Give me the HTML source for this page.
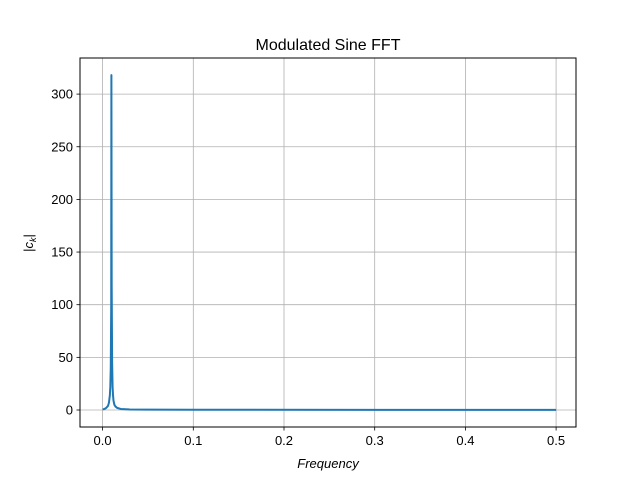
<!DOCTYPE html>
<html><head><meta charset="utf-8"><style>
body{margin:0;background:#fff}
svg{display:block;font-family:"Liberation Sans","DejaVu Sans",sans-serif}
</style></head><body>
<svg id="chart" width="640" height="480" viewBox="0 0 640 480">
<rect x="0" y="0" width="640" height="480" fill="#fff"/>
<g id="grid"></g>
<g id="ticks"></g>
<path id="line" fill="none" stroke="#1f77b4" stroke-width="2" stroke-linejoin="round"/>
<rect x="80" y="58" width="496" height="369" fill="none" stroke="#000" stroke-width="1"/>
<text x="328" y="50" text-anchor="middle" font-size="16">Modulated Sine FFT</text>
<text x="328" y="468" text-anchor="middle" font-size="13" font-style="italic">Frequency</text>
<text transform="translate(33,243) rotate(-90)" text-anchor="middle" font-size="13">|<tspan font-style="italic">c</tspan><tspan font-style="italic" font-size="9" dy="3">k</tspan><tspan dy="-3">|</tspan></text>
</svg>
<script>
const xTicks=[0,0.1,0.2,0.3,0.4,0.5];
const xTickLabels=["0.0","0.1","0.2","0.3","0.4","0.5"];
const yTicks=[0,50,100,150,200,250,300];
const yTickLabels=["0","50","100","150","200","250","300"];
const freqs=[0,0.002,0.004,0.006,0.007,0.008,0.0085,0.009,0.0095,0.0097,0.01,0.0105,0.011,0.0115,0.012,0.013,0.014,0.016,0.02,0.03,0.05,0.1,0.5];
const mags=[0.5,1,2,4,7,14,22,40,100,318,120,45,22,14,9,5,3.5,2,1,0.5,0.3,0.2,0.1];
const X=v=>102.6+v*907;
const Y=v=>410-v*1.053;
const NS="http://www.w3.org/2000/svg";
const grid=document.getElementById('grid'),ticks=document.getElementById('ticks');
function mk(tag,attrs,parent){const e=document.createElementNS(NS,tag);for(const k in attrs)e.setAttribute(k,attrs[k]);parent.appendChild(e);return e;}
xTicks.forEach((t,i)=>{
  const x=X(t);
  const g=mk('line',{x1:x,x2:x,y1:58,y2:427,stroke:'#b0b0b0','stroke-width':0.8},grid);
  
  
  const tk=mk('line',{x1:x,x2:x,y1:427,y2:430.5,stroke:'#000','stroke-width':0.8},ticks);
  
  
  const lb=mk('text',{x:x,y:445,'text-anchor':'middle','font-size':13},ticks);
  lb.textContent=xTickLabels[i];
  
  
});
yTicks.forEach((t,i)=>{
  const y=Y(t);
  const g=mk('line',{x1:80,x2:576,y1:y,y2:y,stroke:'#b0b0b0','stroke-width':0.8},grid);
  
  
  const tk=mk('line',{x1:76.5,x2:80,y1:y,y2:y,stroke:'#000','stroke-width':0.8},ticks);
  
  
  const lb=mk('text',{x:73,y:y+4.5,'text-anchor':'end','font-size':13},ticks);
  lb.textContent=yTickLabels[i];
  
  
});
document.getElementById('line').setAttribute('d',freqs.map((f,i)=>(i?'L':'M')+X(f).toFixed(2)+','+Y(mags[i]).toFixed(2)).join(' '));
</script>
</body></html>
